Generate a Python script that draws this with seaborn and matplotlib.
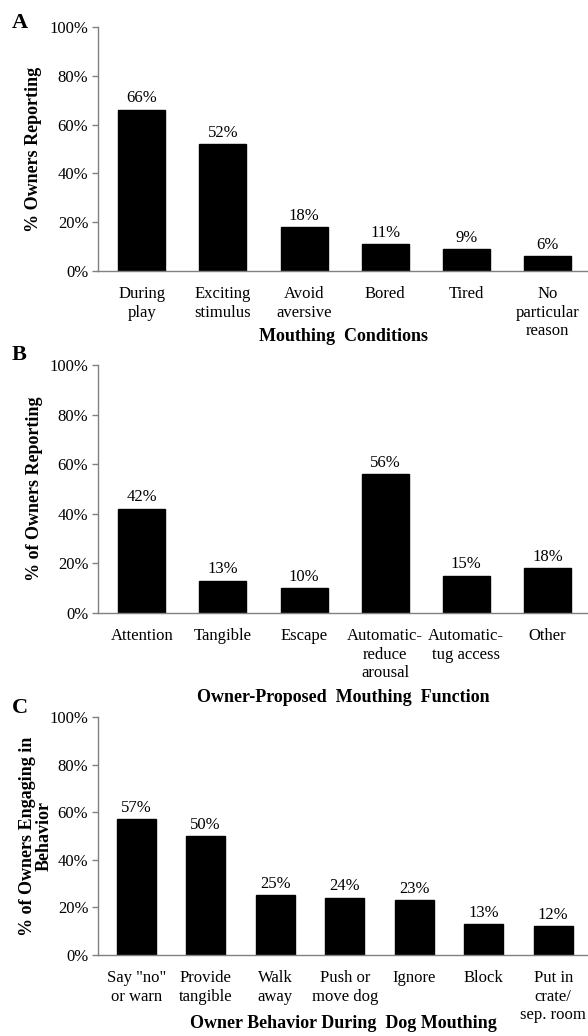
import matplotlib
matplotlib.use("Agg")
import matplotlib.pyplot as plt
import seaborn as sns
import pandas as pd

# Panel A: mouthing conditions
cond_labels = ["During\nplay", "Exciting\nstimulus", "Avoid\naversive", "Bored", "Tired",
               "No\nparticular\nreason"]
cond_values = [66, 52, 18, 11, 9, 6]

# Panel B: owner-proposed function
func_labels = ["Attention", "Tangible", "Escape", "Automatic-\nreduce\narousal",
               "Automatic-\ntug access", "Other"]
func_values = [42, 13, 10, 56, 15, 18]

# Panel C: owner behaviour
beh_labels = ['Say "no"\nor warn', "Provide\ntangible", "Walk\naway", "Push or\nmove dog",
              "Ignore", "Block", "Put in\ncrate/\nsep. room"]
beh_values = [57, 50, 25, 24, 23, 13, 12]

sns.set_style("white")
plt.rcParams["font.family"] = ["Liberation Serif", "DejaVu Serif"]
plt.rcParams["text.color"] = "black"
plt.rcParams["axes.labelcolor"] = "black"
plt.rcParams["xtick.color"] = "black"
plt.rcParams["ytick.color"] = "black"

fig = plt.figure(figsize=(5.88, 10.36), dpi=100)

# letter, labels, values, ylabel, xlabel, axes rect, bar width, xlim, letter y, xlabel y, ylabel x
panels = [
    ("A", cond_labels, cond_values, "% Owners Reporting", "Mouthing  Conditions",
     [0.1667, 0.7384, 0.8333, 0.2356], 0.58, (-0.54, 5.5), 0.978, -0.27, -0.114),
    ("B", func_labels, func_values, "% of Owners Reporting", "Owner-Proposed  Mouthing  Function",
     [0.1667, 0.4083, 0.8333, 0.2394], 0.58, (-0.54, 5.5), 0.657, -0.339, -0.112),
    ("C", beh_labels, beh_values, "% of Owners Engaging in\nBehavior", "Owner Behavior During  Dog Mouthing",
     [0.1667, 0.0782, 0.8333, 0.2297], 0.56, (-0.55, 6.5), 0.3166, -0.286, -0.092),
]

for letter, labels, values, ylab, xlab, rect, w, xlim, ly, xly, ylx in panels:
    ax = fig.add_axes(rect)
    df = pd.DataFrame({"cat": labels, "val": values})
    sns.barplot(data=df, x="cat", y="val", color="black", width=w, ax=ax,
                saturation=1, edgecolor="black")
    ax.bar_label(ax.containers[0], labels=[f"{v}%" for v in values], padding=2.5,
                 fontsize=12, color="black")
    ax.set_ylim(0, 100)
    ax.set_xlim(*xlim)
    ax.set_yticks(range(0, 101, 20))
    ax.set_yticklabels([f"{t}%" for t in range(0, 101, 20)], fontsize=12)
    ax.tick_params(axis="y", length=4, width=1, color="#808080", direction="out", pad=3, left=True)
    ax.tick_params(axis="x", length=0, pad=11, labelsize=12)
    for s in ["top", "right"]:
        ax.spines[s].set_visible(False)
    for s in ["left", "bottom"]:
        ax.spines[s].set_color("#808080")
        ax.spines[s].set_linewidth(1)
    ax.set_ylabel(ylab, fontsize=13, fontweight="bold", linespacing=1.0)
    ax.yaxis.set_label_coords(ylx, 0.5)
    ax.set_xlabel(xlab, fontsize=13, fontweight="bold", va="center")
    ax.xaxis.set_label_coords(0.5, xly)
    fig.text(12 / 588, ly, letter, fontsize=16, fontweight="bold", ha="left", va="center")

fig.savefig("out.png", dpi=100)
